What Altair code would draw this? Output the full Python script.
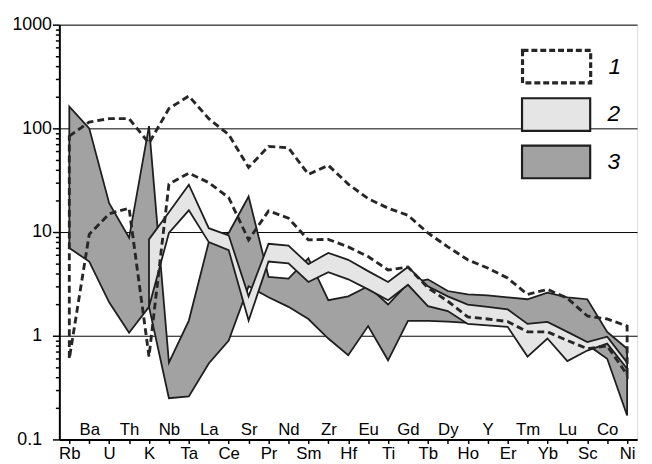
import altair as alt
import pandas as pd

elements = ["Rb", "Ba", "U", "Th", "K", "Nb", "Ta", "La", "Ce", "Sr", "Pr", "Nd", "Sm", "Zr",
            "Hf", "Eu", "Ti", "Gd", "Tb", "Dy", "Ho", "Y", "Er", "Tm", "Yb", "Lu", "Sc", "Co", "Ni"]

# series 1 (dashed envelope)
s1_upper = [84, 115, 124, 124, 72, 155, 205, 124, 87, 42, 67, 65, 36, 44, 29, 21, 17, 14.5,
            9.8, 7.2, 5.4, 4.5, 3.6, 2.5, 2.8, 2.3, 1.55, 1.45, 1.24]
s1_lower = [0.6, 9.5, 15, 17, 0.63, 29, 37, 30, 21.5, 8.4, 16, 13.6, 8.4, 8.5, 7.2, 5.8, 4.3,
            4.6, 2.9, 2.15, 1.52, 1.45, 1.37, 1.09, 1.09, 0.9, 0.75, 0.8, 0.42]

# series 2 (light grey field)
s2_upper = [None, None, None, None, 8.5, 15.5, 28.6, 10.9, 9.3, 2.4, 7.7, 7.4, 4.9, 6.3, 5.4,
            4.2, 3.3, 4.6, 3.0, 2.4, 2.0, 1.9, 1.8, 1.3, 1.36, 1.09, 0.87, 0.98, 0.55]
s2_lower = [None, None, None, None, 1.9, 9.8, 16.2, 8.0, 6.7, 1.4, 5.2, 5.0, 3.3, 4.1, 3.5,
            2.8, 2.2, 3.1, 1.93, 1.73, 1.3, 1.26, 1.22, 0.63, 0.94, 0.57, 0.72, 0.84, 0.48]

# series 3 (dark grey field)
s3_upper = [162, 100, 19, 8.8, 105, 0.55, 1.4, 8.0, 9.8, 22, 3.7, 3.56, 5.6, 2.2, 2.4, 3.0,
            2.0, 3.2, 3.5, 2.7, 2.5, 2.45, 2.35, 2.25, 2.6, 2.35, 2.25, 1.09, 0.75]
s3_lower = [7.0, 5.2, 2.1, 1.07, 1.9, 0.25, 0.26, 0.54, 0.9, 3.0, 2.35, 1.9, 1.45, 0.94, 0.65,
            1.24, 0.58, 1.39, 1.39, 1.37, 1.33, 1.3, 1.3, 1.0, 1.1, 0.9, 0.82, 0.6, 0.17]

y_major = [0.1, 1, 10, 100, 1000]
y_minor = [m * 10 ** e for e in (-1, 0, 1, 2) for m in range(2, 10)]

rows = []
for name, up, lo in (("1", s1_upper, s1_lower), ("2", s2_upper, s2_lower), ("3", s3_upper, s3_lower)):
    for i, (u, l) in enumerate(zip(up, lo)):
        if u is None or l is None:
            continue
        rows.append({"series": name, "idx": i, "el": elements[i], "hi": u, "lo": l})
df = pd.DataFrame(rows)

FONT = "Liberation Sans"
names_expr = "[" + ",".join("'%s'" % e for e in elements) + "][datum.value]"
is_major = "(abs(log(datum.value)/LN10 - round(log(datum.value)/LN10)) < 0.01)"

x_axis = alt.Axis(values=list(range(len(elements))), labelExpr=names_expr,
                  labelPadding=alt.ExprRef(expr="datum.value % 2 == 1 ? -22 : 2"),
                  tickSize=4, tickWidth=1.5, tickColor="black", domainColor="black", domainWidth=2,
                  labelFont=FONT, labelFontSize=17, labelColor="black", labelAngle=0,
                  labelBaseline="top", labelOverlap=False, labelBound=False, labelFlush=False,
                  grid=False, title=None)
y_axis = alt.Axis(values=y_major + y_minor,
                  labelExpr=is_major + " ? format(datum.value, '~g') : ''",
                  tickSize=alt.ExprRef(expr=is_major + " ? 7 : 4"),
                  gridOpacity=alt.ExprRef(expr=is_major + " ? 1 : 0"),
                  labelPadding=alt.ExprRef(expr="datum.value < 5 ? 11 : 1"),
                  grid=True, gridColor="black", gridWidth=1,
                  tickWidth=1.5, tickColor="black", domainColor="black", domainWidth=2,
                  labelFont=FONT, labelFontSize=18, labelColor="black",
                  labelOverlap=False, labelFlush=False, title=None)

BOX = "M-1,-0.478L1,-0.478L1,0.478L-1,0.478Z"


def legend_at(y, dash=None):
    kw = dict(orient="none", legendX=467, legendY=y, title=None,
              symbolType=BOX, symbolSize=4761,
              symbolStrokeColor="#1e1e1e", symbolStrokeWidth=2.2,
              labelFont=FONT, labelFontSize=23, labelFontStyle="italic", labelColor="black",
              labelOffset=16)
    if dash is not None:
        kw.update(symbolDash=dash, symbolStrokeWidth=3.2, symbolFillColor="white")
    return alt.Legend(**kw)


x_enc = alt.X("idx:Q", scale=alt.Scale(domain=[-0.5, 28.5], nice=False, zero=False), axis=x_axis)
y_enc = alt.Y("hi:Q", scale=alt.Scale(type="log", domain=[0.1, 1000], nice=False), axis=y_axis)

base = alt.Chart(df).encode(x=x_enc, y=y_enc, y2=alt.Y2("lo:Q"))

dark = base.transform_filter(alt.datum.series == "3").mark_area(
    stroke="#1e1e1e", strokeWidth=1.8, opacity=1, strokeJoin="miter"
).encode(color=alt.Color("series:N", scale=alt.Scale(domain=["3"], range=["#a2a2a2"]),
                         legend=legend_at(103)))

light = base.transform_filter(alt.datum.series == "2").mark_area(
    stroke="#1e1e1e", strokeWidth=1.8, opacity=1, strokeJoin="miter"
).encode(fill=alt.Fill("series:N", scale=alt.Scale(domain=["2"], range=["#e5e5e5"]),
                       legend=legend_at(55)))

dashed = base.transform_filter(alt.datum.series == "1").mark_area(
    fill="transparent", strokeWidth=2.9, strokeDash=[7, 4], strokeJoin="miter"
).encode(stroke=alt.Stroke("series:N", scale=alt.Scale(domain=["1"], range=["#262626"]),
                           legend=legend_at(6, dash=[6, 3])))

chart = alt.layer(dark, light, dashed).resolve_scale(
    color="independent", fill="independent", stroke="independent"
).properties(
    width=585, height=420,
    padding={"left": 52, "top": 14, "right": 7, "bottom": 22},
    autosize=alt.AutoSizeParams(type="none"),
).configure_view(stroke="black", strokeWidth=2).configure(background="white")

chart.save("out.html", embed_options={"renderer": "svg", "actions": False})
